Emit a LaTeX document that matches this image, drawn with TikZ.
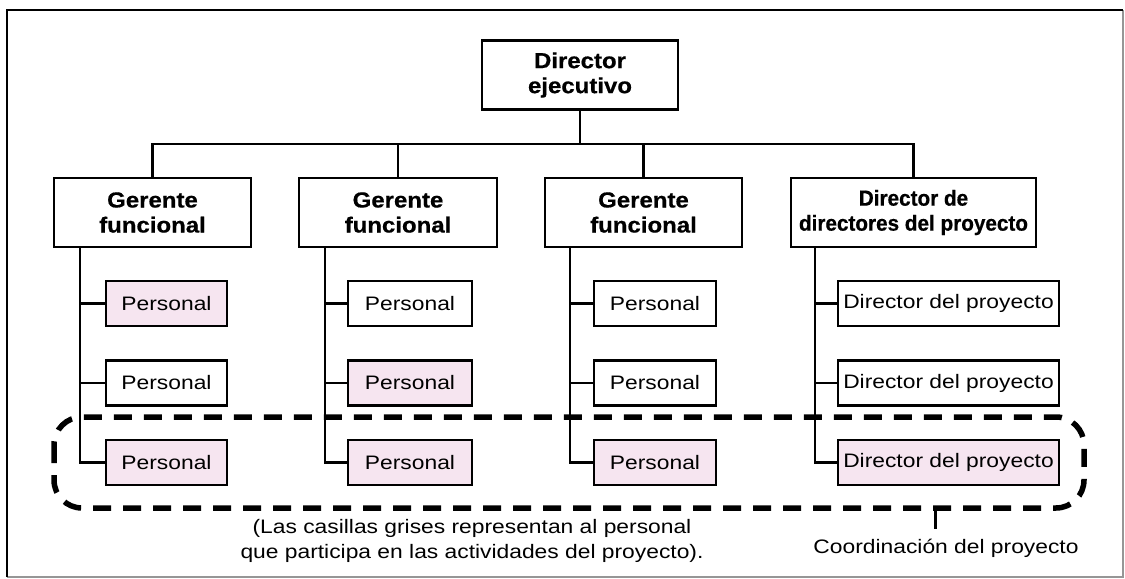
\documentclass[tikz,border=0pt]{standalone}
\usepackage{fontspec}
\setmainfont{Liberation Sans}
\newfontfamily\hdfont[FakeStretch=1.10,FakeBold=0.6]{Liberation Sans}
\newfontfamily\hdnarrow[FakeStretch=0.95,FakeBold=0.6]{Liberation Sans}
\newfontfamily\txfont[FakeStretch=1.17]{Liberation Sans}
\definecolor{staffpink}{RGB}{246,229,240}
\definecolor{framegray}{RGB}{150,150,150}
\begin{document}
\begin{tikzpicture}[x=1bp,y=-1bp,
  box/.style={draw=black,line width=2.8bp,fill=white,inner sep=0pt,align=center},
  head/.style={box,minimum height=69bp,font=\hdfont\bfseries\fontsize{21.8bp}{25bp}\selectfont},
  staff/.style={box,minimum height=45bp,font=\txfont\fontsize{19.5bp}{22bp}\selectfont},
  active/.style={fill=staffpink},
  link/.style={line width=2.5bp},
  note/.style={font=\txfont\fontsize{19.5bp}{25bp}\selectfont,align=center,inner sep=0pt}]

% canvas and frame
\useasboundingbox (0,0) rectangle (1125,579);
\draw[framegray,line width=1.5bp] (1123,10) -- (1123,577) -- (7,577);
\draw[black,line width=2.2bp] (7,577) -- (7,10) -- (1123,10);

% top level
\node[head,minimum width=196bp] (ceo) at (580,75) {Director\\ejecutivo};

% second level
\node[head,minimum width=197bp] (g1) at (152.5,212.5) {Gerente\\funcional};
\node[head,minimum width=198bp] (g2) at (398,212.5) {Gerente\\funcional};
\node[head,minimum width=197bp] (g3) at (643.5,212.5) {Gerente\\funcional};
\node[head,minimum width=245bp,font=\hdnarrow\bfseries\fontsize{21.8bp}{25bp}\selectfont] (g4) at (913.5,212.5) {Director de\\directores del proyecto};

% staff boxes
\node[staff,active,minimum width=121bp] (p11) at (166.5,303.5) {Personal};
\node[staff,minimum width=121bp] (p12) at (166.5,383) {Personal};
\node[staff,active,minimum width=121bp] (p13) at (166.5,462.5) {Personal};

\node[staff,minimum width=124bp] (p21) at (410,303.5) {Personal};
\node[staff,active,minimum width=124bp] (p22) at (410,383) {Personal};
\node[staff,active,minimum width=124bp] (p23) at (410,462.5) {Personal};

\node[staff,minimum width=122bp] (p31) at (655,303.5) {Personal};
\node[staff,minimum width=122bp] (p32) at (655,383) {Personal};
\node[staff,active,minimum width=122bp] (p33) at (655,462.5) {Personal};

\node[staff,minimum width=221bp] (p41) at (948.5,303.5) {Director del proyecto};
\node[staff,minimum width=221bp] (p42) at (948.5,383) {Director del proyecto};
\node[staff,active,minimum width=221bp] (p43) at (948.5,462.5) {Director del proyecto};

% bus and trunk positions
\coordinate (bus) at (580,144);
\coordinate (t1) at (80,247);
\coordinate (t2) at (325,247);
\coordinate (t3) at (570,247);
\coordinate (t4) at (815,247);

% connectors, top
\draw[link] (ceo.south) -- (bus);
\draw[link] (g1.north) |- (bus) -| (g4.north);
\draw[link] (g2.north) -- (g2.north |- bus);
\draw[link] (g3.north) -- (g3.north |- bus);

% connectors, staff
\foreach \t/\c in {t1/1,t2/2,t3/3,t4/4}{
  \draw[link] (\t) |- (p\c3.west);
  \draw[link] (\t |- p\c1.west) -- (p\c1.west);
  \draw[link] (\t |- p\c2.west) -- (p\c2.west);
}

% project coordination zone
\coordinate (zoneA) at (54,417);
\coordinate (zoneB) at (1084,508);
\draw[line width=5.5bp,dash pattern=on 18bp off 12bp,rounded corners=28bp]
  (zoneA) rectangle (zoneB);
\coordinate (tick) at (935,508);
\draw[line width=3bp] (tick) -- ++(0,21);

% notes
\node[note] (n1) at (472,541) {(Las casillas grises representan al personal\\que participa en las actividades del proyecto).};
\node[note,anchor=base] (n2) at (946,553) {Coordinación del proyecto};
\end{tikzpicture}
\end{document}
